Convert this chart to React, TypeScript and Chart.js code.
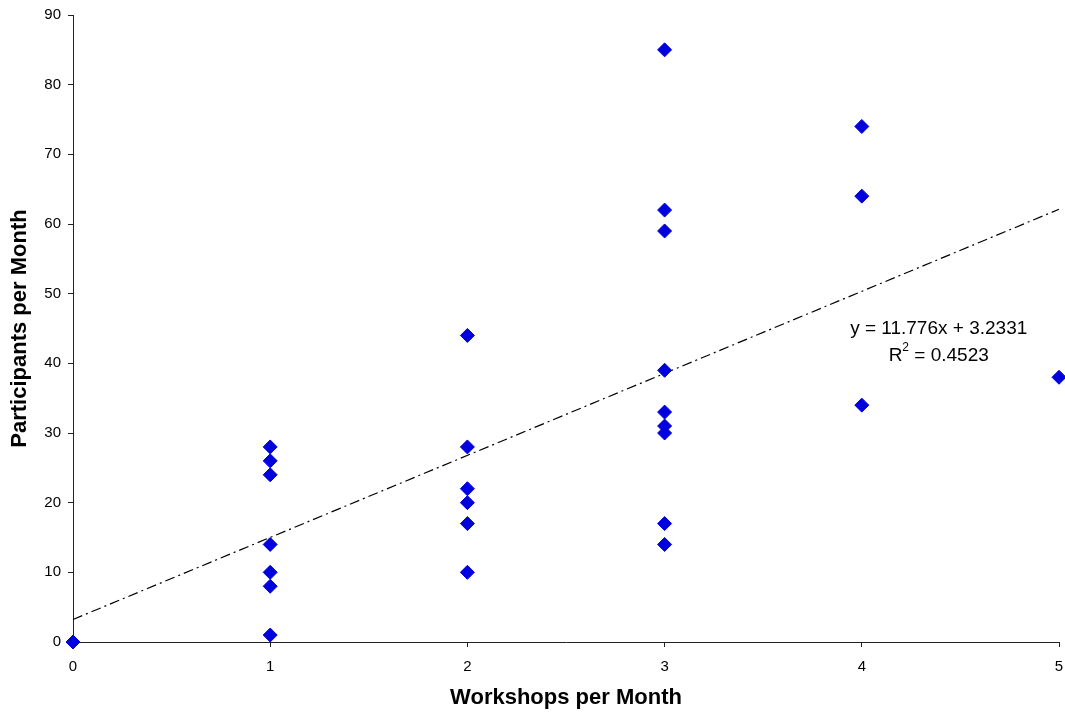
import React, { useEffect, useRef } from "react";
import { Chart, registerables } from "chart.js";

Chart.register(...registerables);

// Workshops per month (x) and participants per month (y)
const workshops: number[] = [0, 1, 1, 1, 1, 1, 1, 1, 2, 2, 2, 2, 2, 2, 3, 3, 3, 3, 3, 3, 3, 3, 3, 4, 4, 4, 5];
const participants: number[] = [0, 28, 26, 24, 14, 10, 8, 1, 44, 28, 22, 20, 17, 10, 85, 62, 59, 39, 33, 31, 30, 17, 14, 74, 64, 34, 38];

// Linear trendline shown on the chart
const trendSlope = 11.776;
const trendIntercept = 3.2331;
const trendRange: number[] = [0, 5];
const trendEquation = "y = 11.776x + 3.2331";
const trendR2 = "0.4523";
const labelAnchor: number[] = [4.39, 45];

const xTitle = "Workshops per Month";
const yTitle = "Participants per Month";

const FONT = "'Liberation Sans', Arial, Helvetica, sans-serif";

const equationPlugin = {
  id: "equationLabel",
  afterDraw(chart: any) {
    const ctx = chart.ctx;
    const xs = chart.scales.x;
    const ys = chart.scales.y;
    const cx = xs.getPixelForValue(labelAnchor[0]);
    const cy = ys.getPixelForValue(labelAnchor[1]);
    ctx.save();
    ctx.fillStyle = "#000";
    ctx.textBaseline = "middle";
    ctx.font = `19px ${FONT}`;
    ctx.textAlign = "center";
    ctx.fillText(trendEquation, cx, cy);
    // second line: R² = value
    const part1 = "R";
    const part3 = " = " + trendR2;
    const w1 = ctx.measureText(part1).width;
    const w3 = ctx.measureText(part3).width;
    ctx.font = `12px ${FONT}`;
    const w2 = ctx.measureText("2").width;
    const total = w1 + w2 + w3;
    const y2 = cy + 27;
    const x0 = cx - total / 2;
    ctx.textAlign = "left";
    ctx.font = `19px ${FONT}`;
    ctx.fillText(part1, x0, y2);
    ctx.font = `12px ${FONT}`;
    ctx.fillText("2", x0 + w1, y2 - 8);
    ctx.font = `19px ${FONT}`;
    ctx.fillText(part3, x0 + w1 + w2, y2);
    ctx.restore();
  },
};

export default function App() {
  const ref = useRef<HTMLCanvasElement | null>(null);

  useEffect(() => {
    if (!ref.current) return;
    const points = workshops.map((x, i) => ({ x, y: participants[i] }));
    const trend = trendRange.map((x) => ({ x, y: trendSlope * x + trendIntercept }));
    const chart = new Chart(ref.current, {
      type: "scatter",
      data: {
        datasets: [
          {
            type: "line",
            data: trend,
            borderColor: "#000",
            borderWidth: 1.2,
            borderDash: [10, 4, 2, 4],
            pointRadius: 0,
            fill: false,
            clip: false as any,
            order: 2,
          } as any,
          {
            data: points,
            pointStyle: "rectRot",
            pointRadius: 7,
            pointHoverRadius: 7,
            backgroundColor: "#0000DD",
            borderColor: "#0000DD",
            borderWidth: 1,
            clip: false as any,
            order: 1,
          } as any,
        ],
      },
      options: {
        responsive: false,
        animation: false,
        layout: { autoPadding: false, padding: { top: 15, right: 6, left: 0, bottom: 0 } },
        plugins: {
          legend: { display: false },
          tooltip: { enabled: false },
        },
        scales: {
          x: {
            type: "linear",
            min: 0,
            max: 5,
            ticks: {
              stepSize: 1,
              padding: 11,
              color: "#000",
              font: { family: FONT, size: 15 },
            },
            grid: {
              display: true,
              drawOnChartArea: false,
              drawTicks: true,
              tickLength: 5,
              color: "#222",
            },
            border: { display: true, color: "#222", width: 1 },
            title: {
              display: true,
              text: xTitle,
              color: "#000",
              font: { family: FONT, size: 22, weight: "bold" },
              padding: { top: 0, bottom: 4 },
            },
            afterFit: (s: any) => {
              s.height = 73;
              s.paddingLeft = 0;
              s.paddingRight = 0;
            },
          },
          y: {
            type: "linear",
            min: 0,
            max: 90,
            ticks: {
              stepSize: 10,
              padding: 7,
              color: "#000",
              font: { family: FONT, size: 15 },
            },
            grid: {
              display: true,
              drawOnChartArea: false,
              drawTicks: true,
              tickLength: 5,
              color: "#222",
            },
            border: { display: true, color: "#222", width: 1 },
            title: {
              display: true,
              text: yTitle,
              color: "#000",
              font: { family: FONT, size: 22, weight: "bold" },
              padding: { top: 7, bottom: 0 },
            },
            afterFit: (s: any) => {
              s.width = 73;
              s.paddingTop = 0;
              s.paddingBottom = 0;
            },
          },
        },
      } as any,
      plugins: [equationPlugin],
    });
    return () => chart.destroy();
  }, []);

  return (
    <div style={{ position: "absolute", left: 0, top: 0, width: 1065, height: 715, background: "#fff" }}>
      <canvas ref={ref} width={1065} height={715} />
    </div>
  );
}
